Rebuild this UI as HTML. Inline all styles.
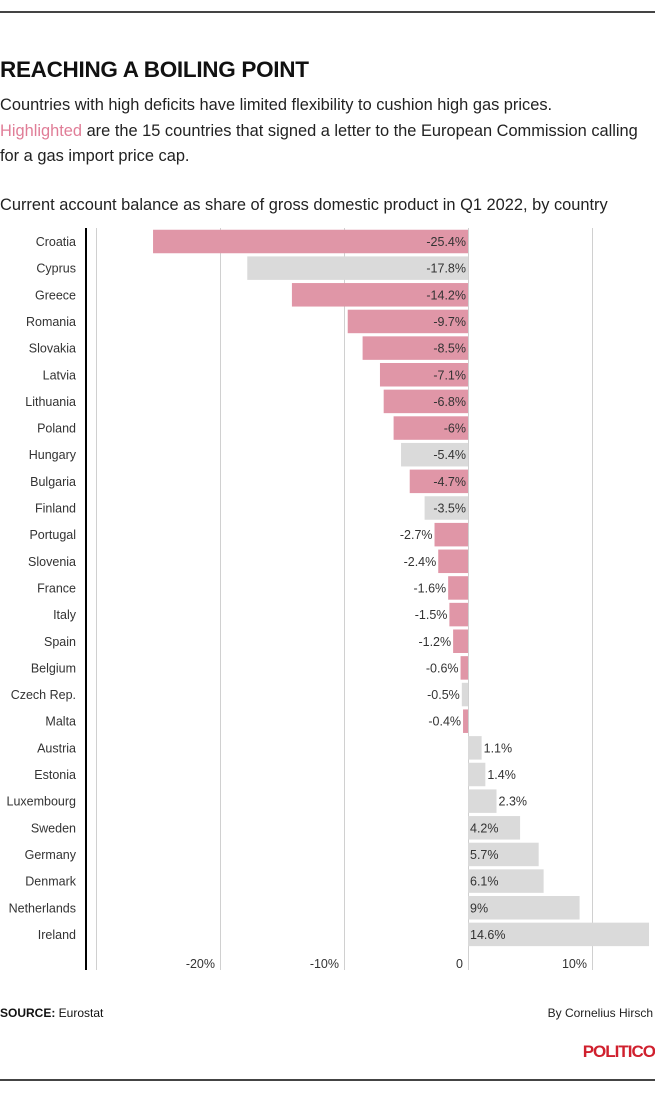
<!DOCTYPE html>
<html><head><meta charset="utf-8"><style>
body{margin:0;background:#fff;width:655px;height:1105px;overflow:hidden;font-family:"Liberation Sans",sans-serif;}
</style></head><body>
<svg width="655" height="1105" xmlns="http://www.w3.org/2000/svg" font-family="Liberation Sans, sans-serif">
<rect x="0" y="11" width="655" height="2" fill="#444"/>
<rect x="0" y="1079" width="655" height="2" fill="#444"/>
<text x="0" y="77" font-size="22.5" font-weight="bold" fill="#111" letter-spacing="-0.3">REACHING A BOILING POINT</text>
<text font-size="16.4" fill="#222">
<tspan x="0" y="110">Countries with high deficits have limited flexibility to cushion high gas prices.</tspan>
<tspan x="0" y="136"><tspan fill="#e07d97">Highlighted</tspan> are the 15 countries that signed a letter to the European Commission calling</tspan>
<tspan x="0" y="161">for a gas import price cap.</tspan>
</text>
<text x="0" y="210" font-size="16.4" fill="#222">Current account balance as share of gross domestic product in Q1 2022, by country</text>
<g stroke="#d0d0d0" stroke-width="1">
<line x1="96.5" y1="228" x2="96.5" y2="970"/><line x1="220.5" y1="228" x2="220.5" y2="970"/>
<line x1="344.5" y1="228" x2="344.5" y2="970"/><line x1="468.5" y1="228" x2="468.5" y2="970"/>
<line x1="592.5" y1="228" x2="592.5" y2="970"/>
</g>
<rect x="85" y="228" width="2" height="742" fill="#000"/>
<g font-size="12.5" fill="#333" text-anchor="end">
<text x="215" y="968">-20%</text><text x="339" y="968">-10%</text><text x="463" y="968">0</text><text x="587" y="968">10%</text>
</g>
<g id="bars" font-size="12.5"></g>
<text x="0" y="1017" font-size="12" fill="#111"><tspan font-weight="bold">SOURCE:</tspan> Eurostat</text>
<text x="653" y="1017" font-size="12" fill="#222" text-anchor="end">By Cornelius Hirsch</text>
<text x="655" y="1057" font-size="17" font-weight="bold" fill="#d0202e" text-anchor="end" letter-spacing="-1">POLITICO</text>
</svg>
<script>
var d=[["Croatia",-25.4,1],["Cyprus",-17.8,0],["Greece",-14.2,1],["Romania",-9.7,1],["Slovakia",-8.5,1],["Latvia",-7.1,1],["Lithuania",-6.8,1],["Poland",-6,1],["Hungary",-5.4,0],["Bulgaria",-4.7,1],["Finland",-3.5,0],["Portugal",-2.7,1],["Slovenia",-2.4,1],["France",-1.6,1],["Italy",-1.5,1],["Spain",-1.2,1],["Belgium",-0.6,1],["Czech Rep.",-0.5,0],["Malta",-0.4,1],["Austria",1.1,0],["Estonia",1.4,0],["Luxembourg",2.3,0],["Sweden",4.2,0],["Germany",5.7,0],["Denmark",6.1,0],["Netherlands",9,0],["Ireland",14.6,0]];
var g=document.getElementById('bars'),s='';
d.forEach(function(r,i){
 var c=241.5+i*26.65,y=c-11.75,w=Math.abs(r[1])*12.4,x=r[1]<0?468-w:468;
 s+='<rect x="'+x+'" y="'+y+'" width="'+w+'" height="23.5" fill="'+(r[2]?'#e096a7':'#dadada')+'"/>';
 s+='<text x="76" y="'+(c+4.5)+'" text-anchor="end" fill="#333">'+r[0]+'</text>';
 var lbl=r[1]+'%';
 if(r[1]<0){var tx=w>34?466:x-2;s+='<text x="'+tx+'" y="'+(c+4.5)+'" text-anchor="end" fill="#333">'+lbl+'</text>';}
 else{var tx=w>34?470:x+w+2;s+='<text x="'+tx+'" y="'+(c+4.5)+'" fill="#333">'+lbl+'</text>';}
});
g.innerHTML=s;
</script>
</body></html>
